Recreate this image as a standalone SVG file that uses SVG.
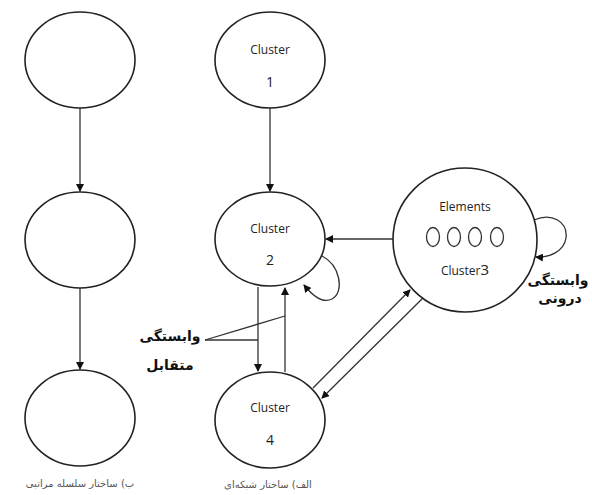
<svg xmlns="http://www.w3.org/2000/svg" width="592" height="495" viewBox="0 0 592 495">
<style>
.node{fill:#fff;stroke:#222;stroke-width:1.6}
.el{fill:none;stroke:#333;stroke-width:1.3}
.edge{fill:none;stroke:#333;stroke-width:1.3}
.lbl{font-family:"Open Sans","Liberation Sans",sans-serif;font-size:12px;fill:#222;text-anchor:middle}
.num{font-family:"Open Sans","Liberation Sans",sans-serif;font-size:14px;fill:#222;text-anchor:middle}
.fa{font-family:"DejaVu Sans",sans-serif;font-weight:bold;font-size:14px;fill:#111;text-anchor:middle}
.cap{font-family:"DejaVu Sans",sans-serif;font-size:10px;fill:#555;text-anchor:middle}
</style>
<defs>
<marker id="ah" markerWidth="8" markerHeight="8" refX="7" refY="4" orient="auto" markerUnits="userSpaceOnUse">
<path d="M0,0 L8,4 L0,8 Z" fill="#111"/>
</marker>
</defs>
<g id="connectors">
<line class="edge" x1="80" y1="108" x2="80" y2="191" marker-end="url(#ah)"/>
<line class="edge" x1="80" y1="288" x2="80" y2="369" marker-end="url(#ah)"/>
<line class="edge" x1="270" y1="108" x2="270" y2="191" marker-end="url(#ah)"/>
<line class="edge" x1="393" y1="239" x2="326" y2="239" marker-end="url(#ah)"/>
<path class="edge" d="M322,256 C340,265 345,292 332,299 C322,304 312,295 304,285" marker-end="url(#ah)"/>
<line class="edge" x1="258" y1="287" x2="258" y2="371" marker-end="url(#ah)"/>
<line class="edge" x1="285" y1="372" x2="285" y2="288" marker-end="url(#ah)"/>
<line class="edge" x1="205" y1="340" x2="285" y2="316"/>
<line class="edge" x1="205" y1="340" x2="258" y2="340"/>
<line class="edge" x1="313" y1="388" x2="410" y2="290" marker-end="url(#ah)"/>
<line class="edge" x1="424" y1="297" x2="322" y2="398" marker-end="url(#ah)"/>
<path class="edge" d="M534,220 C552,212 568,222 566,238 C564,252 548,258 536,257" marker-end="url(#ah)"/>
</g>
<g id="left-top"><ellipse class="node" cx="80" cy="60" rx="55" ry="48"/></g>
<g id="left-middle"><ellipse class="node" cx="80" cy="240" rx="55" ry="48"/></g>
<g id="left-bottom"><ellipse class="node" cx="80" cy="418" rx="55" ry="48"/></g>
<g id="cluster1"><ellipse class="node" cx="270" cy="60" rx="55" ry="48"/>
<text class="lbl" x="270" y="54">Cluster</text><text class="num" x="270" y="87">1</text></g>
<g id="cluster2"><ellipse class="node" cx="270" cy="239" rx="55" ry="47"/>
<text class="lbl" x="270" y="233">Cluster</text><text class="num" x="270" y="265">2</text></g>
<g id="cluster4"><ellipse class="node" cx="270" cy="420" rx="55" ry="48"/>
<text class="lbl" x="270" y="412">Cluster</text><text class="num" x="270" y="445">4</text></g>
<g id="cluster3"><circle class="node" cx="465" cy="240" r="72"/>
<text class="lbl" x="465" y="211">Elements</text>
<ellipse class="el" cx="433" cy="237" rx="6.5" ry="9.5"/>
<ellipse class="el" cx="454" cy="237" rx="6.5" ry="9.5"/>
<ellipse class="el" cx="475" cy="237" rx="6.5" ry="9.5"/>
<ellipse class="el" cx="497" cy="237" rx="6.5" ry="9.5"/>
<text class="lbl" x="465" y="275">Cluster<tspan font-size="15">3</tspan></text></g>
<g id="labels">
<text class="fa" x="170" y="341">وابستگی</text>
<text class="fa" x="170" y="370">متقابل</text>
<text class="fa" x="558" y="285">وابستگی</text>
<text class="fa" x="560" y="303">درونی</text>
<text class="cap" x="80" y="487">ب) ساختار سلسله مراتبی</text>
<text class="cap" x="268" y="488">الف) ساختار شبکه‌ای</text>
</g>
</svg>
